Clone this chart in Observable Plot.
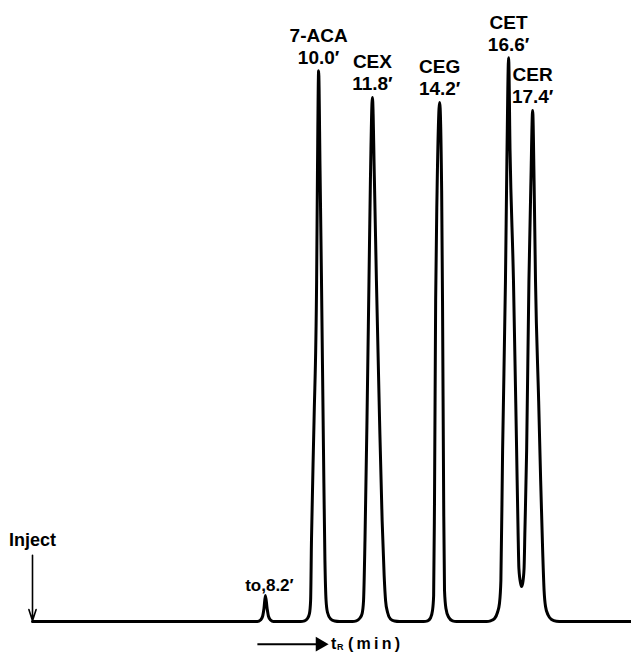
<!DOCTYPE html>
<html>
<head>
<meta charset="utf-8">
<script src="https://cdn.jsdelivr.net/npm/d3@7"></script>
<script src="https://cdn.jsdelivr.net/npm/@observablehq/plot@0.6"></script>
<style>
  html, body { margin: 0; padding: 0; background: #fff; }
</style>
</head>
<body>
<div id="chart"></div>
<script>
// Chromatogram trace: retention time (min) and detector response (relative units)
const time = [
  0,
  7.86, 7.97, 8.04, 8.09, 8.14, 8.20, 8.25, 8.32, 8.42,
  9.37, 9.51, 9.61, 9.68, 9.72, 9.75, 9.84, 9.93, 9.96, 10.00, 10.05, 10.10, 10.17, 10.22, 10.26, 10.31, 10.42, 10.56, 10.73,
  11.18, 11.32, 11.43, 11.52, 11.57, 11.62, 11.69, 11.76, 11.81, 11.88, 11.95, 12.02, 12.13, 12.22, 12.29, 12.34, 12.41, 12.51, 12.65, 12.83,
  13.67, 13.81, 13.91, 13.98, 14.02, 14.05, 14.09, 14.14, 14.23, 14.30, 14.33, 14.37, 14.40, 14.45, 14.54, 14.68, 14.82,
  15.87, 16.01, 16.15, 16.25, 16.32, 16.37, 16.43, 16.53, 16.58, 16.64, 16.69, 16.81, 16.92, 16.97, 17.00, 17.06, 17.09, 17.13,
  17.18, 17.21, 17.27, 17.35, 17.42, 17.48, 17.53, 17.58, 17.69, 17.76, 17.83, 17.88, 17.93, 18.02, 18.14, 18.31, 18.52,
  20.90
];
const response = [
  0,
  0, 0.27, 0.88, 2.30, 4.59, 2.30, 0.88, 0.27, 0,
  0, 0.12, 0.53, 1.41, 3.71, 14.3, 35.5, 60.2, 79.7, 97.3, 79.7, 60.2, 30.2, 10.8, 3.71, 1.59, 0.44, 0.09, 0,
  0, 0.12, 0.53, 1.41, 3.71, 14.3, 35.5, 60.2, 77.9, 92.6, 77.9, 60.2, 35.5, 17.8, 8.13, 3.71, 1.59, 0.44, 0.09, 0,
  0, 0.12, 0.62, 1.94, 4.59, 21.4, 56.7, 76.1, 91.7, 76.1, 56.7, 21.4, 5.48, 2.30, 0.80, 0.12, 0,
  0, 0.12, 0.53, 1.59, 3.18, 7.24, 30.2, 60.2, 81.4, 99.6, 83.2, 60.2, 30.2, 16.1, 9.36, 6.71, 6.18, 6.71,
  9.36, 16.1, 30.2, 60.2, 77.9, 90.3, 77.9, 60.2, 39.0, 24.9, 12.5, 5.48, 2.65, 1.15, 0.35, 0.05, 0,
  0
];

// Peak annotations
const peakNames = ["7-ACA", "CEX", "CEG", "CET", "CER"];
const peakRetention = ["10.0\u2032", "11.8\u2032", "14.2\u2032", "16.6\u2032", "17.4\u2032"];
const peakApexTime = [10.00, 11.88, 14.23, 16.64, 17.48];
const deadLabel = "to,8.2\u2032";
const deadApexTime = 8.14;
const injectTime = 0;
const axisLabel = ["t", "R", "(\u2009m\u2009i\u2009n\u2009)"];

// ---- build tables from the arrays ----
const trace = time.map((t, i) => ({t, r: response[i]}));
const heightAt = t => response[time.indexOf(t)];
const peaks = peakNames.map((name, i) => ({
  t: peakApexTime[i],
  r: heightAt(peakApexTime[i]),
  label: name + "\n" + peakRetention[i]
}));
const dead = [{t: deadApexTime, r: heightAt(deadApexTime), label: deadLabel}];

// layout helpers (annotation placement, in scale units)
const arrowY = -4.0;
const arrowStart = 7.86, arrowEnd = 10.05;
const inject = [{t: injectTime, top: 11.7, bottom: 0.15, textY: 13.4}];

const FONT = "'Liberation Sans', Arial, Helvetica, sans-serif";

const chart = Plot.plot({
  width: 631,
  height: 655,
  marginLeft: 32,
  marginRight: 1,
  marginTop: 55,
  marginBottom: 34,
  axis: null,
  x: {domain: [0, 20.9]},
  y: {domain: [0, 100]},
  style: {fontFamily: FONT, background: "#fff", color: "#000", overflow: "visible"},
  marks: [
    Plot.line(trace, {
      x: "t", y: "r", curve: "monotone-x",
      stroke: "#000", strokeWidth: 3, strokeLinejoin: "round", strokeLinecap: "round"
    }),
    Plot.text(peaks, {
      x: "t", y: "r", text: "label",
      lineAnchor: "bottom", dy: -7, lineHeight: 1.17,
      fontSize: 19, fontWeight: "bold", fill: "#000"
    }),
    Plot.text(dead, {
      x: "t", y: "r", text: "label",
      lineAnchor: "bottom", dy: -5, dx: 4,
      fontSize: 17, fontWeight: "bold", fill: "#000"
    }),
    Plot.arrow(inject, {
      x1: "t", y1: "top", x2: "t", y2: "bottom",
      stroke: "#000", strokeWidth: 1.6, headLength: 11, headAngle: 36
    }),
    Plot.text(inject, {
      x: "t", y: "textY", text: () => "Inject",
      lineAnchor: "bottom", fontSize: 18, fontWeight: "bold", fill: "#000"
    }),
    Plot.link([{x1: arrowStart, x2: arrowEnd, y: arrowY}], {
      x1: "x1", x2: "x2", y1: "y", y2: "y", stroke: "#000", strokeWidth: 2
    }),
    Plot.dot([{x: arrowEnd, y: arrowY}], {
      x: "x", y: "y", symbol: "triangle", rotate: 90, r: 5.5, fill: "#000", stroke: "none"
    }),
    Plot.text([{x: arrowEnd, y: arrowY}], {
      x: "x", y: "y", text: () => axisLabel[0], textAnchor: "start", lineAnchor: "middle",
      dx: 11, dy: 0, fontSize: 16, fontWeight: "bold", fill: "#000"
    }),
    Plot.text([{x: arrowEnd, y: arrowY}], {
      x: "x", y: "y", text: () => axisLabel[1], textAnchor: "start", lineAnchor: "middle",
      dx: 17, dy: 3, fontSize: 9, fontWeight: "bold", fill: "#000"
    }),
    Plot.text([{x: arrowEnd, y: arrowY}], {
      x: "x", y: "y", text: () => axisLabel[2], textAnchor: "start", lineAnchor: "middle",
      dx: 28, dy: 0, fontSize: 16, fontWeight: "bold", fill: "#000"
    })
  ]
});

document.getElementById("chart").appendChild(chart);
</script>
</body>
</html>
